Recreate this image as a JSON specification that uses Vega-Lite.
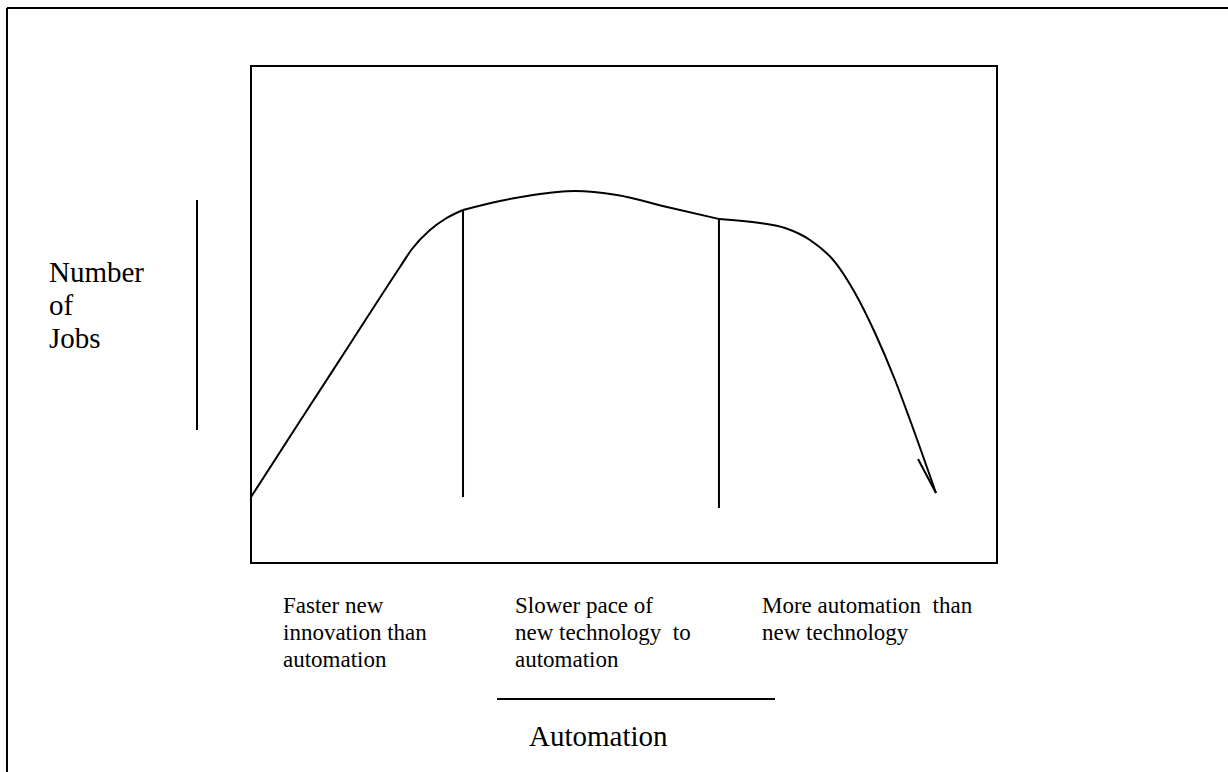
{
  "$schema": "https://vega.github.io/schema/vega-lite/v6.json",
  "width": 746,
  "height": 497,
  "autosize": {"type": "none"},
  "padding": {"left": 251, "top": 66, "right": 231, "bottom": 209},
  "background": "white",
  "config": {
    "view": {"stroke": "black", "strokeWidth": 2},
    "font": "'Liberation Serif', 'DejaVu Serif', serif"
  },
  "datasets": {
    "curve": [
      {"seg": "a", "automation": 0, "jobs": 13.28},
      {"seg": "a", "automation": 6.57, "jobs": 28.57},
      {"seg": "a", "automation": 13.27, "jobs": 44.06},
      {"seg": "a", "automation": 19.97, "jobs": 59.56},
      {"seg": "a", "automation": 21.58, "jobs": 63.18},
      {"seg": "a", "automation": 23.99, "jobs": 67.0},
      {"seg": "a", "automation": 26.01, "jobs": 69.22},
      {"seg": "a", "automation": 28.42, "jobs": 71.03},
      {"seg": "b", "automation": 28.42, "jobs": 71.03},
      {"seg": "b", "automation": 33.38, "jobs": 72.84},
      {"seg": "b", "automation": 37.8, "jobs": 74.04},
      {"seg": "b", "automation": 43.43, "jobs": 74.85},
      {"seg": "b", "automation": 49.06, "jobs": 74.04},
      {"seg": "b", "automation": 55.76, "jobs": 71.63},
      {"seg": "b", "automation": 62.73, "jobs": 69.22},
      {"seg": "c", "automation": 62.73, "jobs": 69.22},
      {"seg": "c", "automation": 68.23, "jobs": 68.41},
      {"seg": "c", "automation": 71.58, "jobs": 67.4},
      {"seg": "c", "automation": 74.93, "jobs": 64.99},
      {"seg": "c", "automation": 78.28, "jobs": 60.56},
      {"seg": "c", "automation": 80.97, "jobs": 54.33},
      {"seg": "c", "automation": 83.65, "jobs": 46.28},
      {"seg": "c", "automation": 86.33, "jobs": 36.82},
      {"seg": "c", "automation": 88.34, "jobs": 28.77},
      {"seg": "c", "automation": 91.82, "jobs": 14.08}
    ],
    "rules": [
      {"name": "outer top", "x": -32.71, "y": 111.67, "x2": 135, "y2": 111.67},
      {"name": "outer left", "x": -32.71, "y": 111.67, "x2": -32.71, "y2": -45},
      {"name": "jobs marker", "x": -7.24, "y": 73.04, "x2": -7.24, "y2": 26.76},
      {"name": "phase 1 end", "x": 28.42, "y": 71.03, "x2": 28.42, "y2": 13.28},
      {"name": "phase 2 end", "x": 62.73, "y": 69.22, "x2": 62.73, "y2": 11.07},
      {"name": "automation marker", "x": 32.98, "y": -27.36, "x2": 70.24, "y2": -27.36},
      {"name": "tail", "x": 89.41, "y": 20.93, "x2": 91.82, "y2": 14.08}
    ],
    "bigText": [
      {"x": -27.08, "y": 56.54, "label": ["Number", "of", "Jobs"]},
      {"x": 37.27, "y": -36.82, "label": ["Automation"]}
    ],
    "smallText": [
      {"x": 4.29, "y": -10.06, "label": ["Faster new", "innovation than", "automation"]},
      {"x": 35.39, "y": -10.06, "label": ["Slower pace of", "new technology\u00a0 to", "automation"]},
      {"x": 68.5, "y": -10.06, "label": ["More automation\u00a0 than", "new technology"]}
    ]
  },
  "layer": [
    {
      "data": {"name": "curve"},
      "mark": {"type": "line", "color": "black", "strokeWidth": 2, "interpolate": "monotone"},
      "encoding": {
        "x": {"field": "automation", "type": "quantitative", "scale": {"domain": [0, 100], "nice": false, "zero": false}, "axis": null},
        "y": {"field": "jobs", "type": "quantitative", "scale": {"domain": [0, 100], "nice": false, "zero": false}, "axis": null},
        "detail": {"field": "seg"}
      }
    },
    {
      "data": {"name": "rules"},
      "mark": {"type": "rule", "color": "black", "strokeWidth": 2},
      "encoding": {
        "x": {"field": "x", "type": "quantitative", "scale": {"domain": [0, 100], "nice": false, "zero": false}, "axis": null},
        "y": {"field": "y", "type": "quantitative", "scale": {"domain": [0, 100], "nice": false, "zero": false}, "axis": null},
        "x2": {"field": "x2"},
        "y2": {"field": "y2"}
      }
    },
    {
      "data": {"name": "bigText"},
      "mark": {"type": "text", "color": "black", "fontSize": 29, "lineHeight": 33, "align": "left", "baseline": "alphabetic", "font": "'Liberation Serif', 'DejaVu Serif', serif"},
      "encoding": {
        "x": {"field": "x", "type": "quantitative", "scale": {"domain": [0, 100], "nice": false, "zero": false}, "axis": null},
        "y": {"field": "y", "type": "quantitative", "scale": {"domain": [0, 100], "nice": false, "zero": false}, "axis": null},
        "text": {"field": "label"}
      }
    },
    {
      "data": {"name": "smallText"},
      "mark": {"type": "text", "color": "black", "fontSize": 23, "lineHeight": 27, "align": "left", "baseline": "alphabetic", "font": "'Liberation Serif', 'DejaVu Serif', serif"},
      "encoding": {
        "x": {"field": "x", "type": "quantitative", "scale": {"domain": [0, 100], "nice": false, "zero": false}, "axis": null},
        "y": {"field": "y", "type": "quantitative", "scale": {"domain": [0, 100], "nice": false, "zero": false}, "axis": null},
        "text": {"field": "label"}
      }
    }
  ]
}
